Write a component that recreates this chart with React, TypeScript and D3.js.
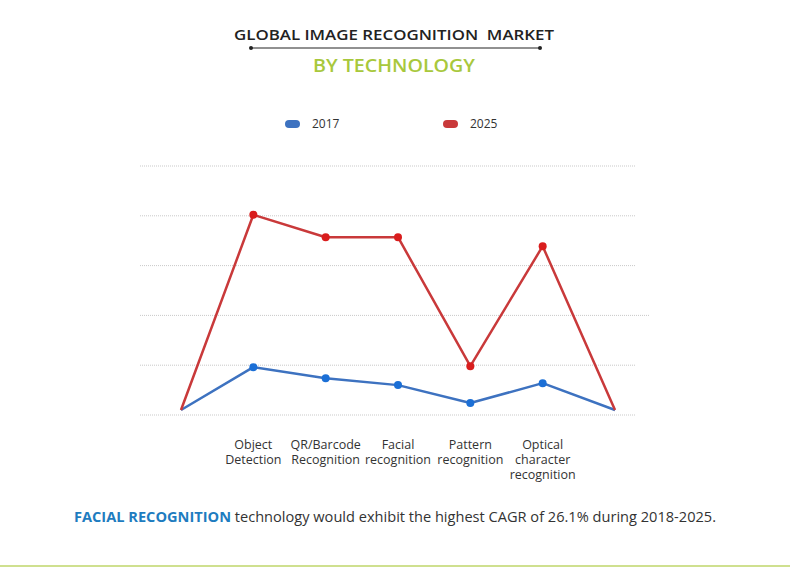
import React, { useEffect, useRef } from "react";
import * as d3 from "d3";

// categories (first and last are empty anchor points of the chart)
const categories = ["", "Object Detection", "QR/Barcode Recognition", "Facial recognition", "Pattern recognition", "Optical character recognition", ""];
const categoryLines = [[], ["Object", "Detection"], ["QR/Barcode", "Recognition"], ["Facial", "recognition"], ["Pattern", "recognition"], ["Optical", "character", "recognition"], []];
const values2017 = [0.1, 0.96, 0.74, 0.6, 0.24, 0.64, 0.1];
const values2025 = [0.1, 4.02, 3.57, 3.57, 0.98, 3.39, 0.1];
const gridTicks = [0, 1, 2, 3, 4, 5];

const series = [
  { name: "2017", values: values2017, line: "#3d72c0", dot: "#1b6fd6" },
  { name: "2025", values: values2025, line: "#c9393a", dot: "#d91d1d" },
];

export default function App() {
  const ref = useRef<SVGSVGElement>(null);

  useEffect(() => {
    const width = 790;
    const height = 568;
    const svg = d3.select(ref.current).attr("width", width).attr("height", height);
    svg.selectAll("*").remove();
    const font = "'Open Sans', sans-serif";

    const x = d3.scalePoint<number>().domain(d3.range(categories.length)).range([181, 615]);
    const y = d3.scaleLinear().domain([0, 5]).range([415, 166]);

    // Title
    svg.append("text")
      .attr("x", 394).attr("y", 40)
      .attr("text-anchor", "middle")
      .attr("font-family", font).attr("font-weight", 600).attr("font-size", 15)
      .attr("fill", "#222")
      .style("white-space", "pre")
      .attr("textLength", 320).attr("lengthAdjust", "spacingAndGlyphs")
      .text("GLOBAL IMAGE RECOGNITION  MARKET");
    svg.append("line")
      .attr("x1", 251).attr("x2", 540).attr("y1", 48).attr("y2", 48)
      .attr("stroke", "#222").attr("stroke-width", 1);
    svg.selectAll(".tdot").data([251, 540]).join("circle")
      .attr("cx", d => d).attr("cy", 48).attr("r", 2).attr("fill", "#222");
    svg.append("text")
      .attr("x", 394).attr("y", 72)
      .attr("text-anchor", "middle")
      .attr("font-family", font).attr("font-weight", 600).attr("font-size", 18)
      .attr("fill", "#a8c83c")
      .attr("textLength", 162).attr("lengthAdjust", "spacingAndGlyphs")
      .text("BY TECHNOLOGY");

    // Legend
    const legendX = [285, 443];
    const legend = svg.selectAll(".legend").data(series).join("g")
      .attr("transform", (d, i) => `translate(${legendX[i]}, 124)`);
    legend.append("rect")
      .attr("x", 0).attr("y", -4).attr("width", 15).attr("height", 8).attr("rx", 4)
      .attr("fill", d => d.line);
    legend.append("text")
      .attr("x", 27).attr("y", 4)
      .attr("font-family", font).attr("font-size", 12).attr("fill", "#333")
      .text(d => d.name);

    // Gridlines
    svg.selectAll(".grid").data(gridTicks).join("line")
      .attr("x1", 140).attr("x2", d => (d === 2 ? 650 : 636))
      .attr("y1", d => y(d)).attr("y2", d => y(d))
      .attr("stroke", "#c9c9c9").attr("stroke-width", 1)
      .attr("stroke-dasharray", "1,1");

    // Lines
    const line = d3.line<number>().x((d, i) => x(i)!).y(d => y(d));
    svg.selectAll(".series").data(series).join("path")
      .attr("d", d => line(d.values))
      .attr("fill", "none").attr("stroke", d => d.line).attr("stroke-width", 2.5)
      .attr("stroke-linejoin", "round");
    series.forEach(s => {
      svg.selectAll(`.dot${s.name}`)
        .data(s.values.map((v, i) => ({ v, i })).filter(d => categories[d.i] !== ""))
        .join("circle")
        .attr("cx", d => x(d.i)!).attr("cy", d => y(d.v)).attr("r", 4)
        .attr("fill", s.dot);
    });

    // Category labels, one text per line
    categoryLines.forEach((lines, i) => {
      lines.forEach((t, j) => {
        svg.append("text")
          .attr("x", x(i)!)
          .attr("y", 449 + j * 15)
          .attr("text-anchor", "middle")
          .attr("font-family", font).attr("font-size", 12.5).attr("fill", "#333")
          .text(t);
      });
    });

    // Footnote
    const note = svg.append("text")
      .attr("x", 74).attr("y", 522)
      .attr("font-family", font).attr("font-size", 14).attr("fill", "#333")
      .attr("textLength", 642).attr("lengthAdjust", "spacingAndGlyphs");
    note.append("tspan").attr("font-weight", 700).attr("fill", "#1e7cc0").text("FACIAL RECOGNITION");
    note.append("tspan").text(" technology would exhibit the highest CAGR of 26.1% during 2018-2025.");

    svg.append("line")
      .attr("x1", 0).attr("x2", width).attr("y1", 566).attr("y2", 566)
      .attr("stroke", "#cfe08f").attr("stroke-width", 2);
  }, []);

  return <svg ref={ref} style={{ position: "absolute", left: 0, top: 0, background: "#fff" }} />;
}
